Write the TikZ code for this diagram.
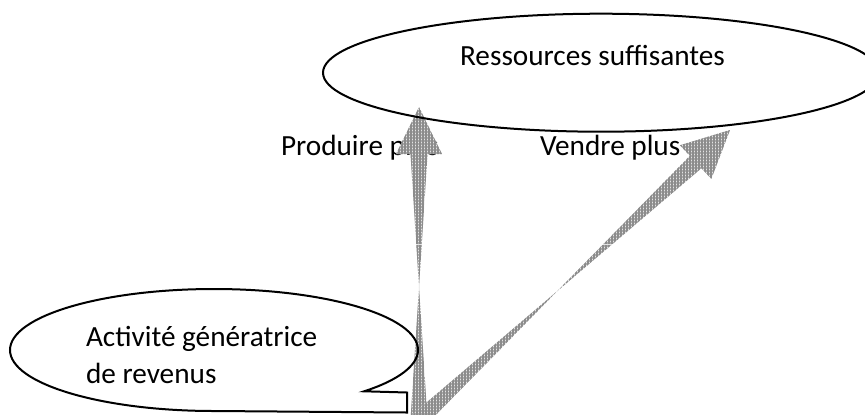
\documentclass[tikz,border=0pt]{standalone}
\usepackage{fontspec}
\setmainfont{Carlito}
\usetikzlibrary{positioning,shapes.geometric,calc,patterns.meta}
\tikzstyle{outline}    = [draw=black, line width=0.8pt]
\tikzstyle{default}    = [inner sep=0pt, outer sep=0pt, text=black, font=\fontsize{11.7pt}{14.9pt}\selectfont]
\tikzstyle{default_text}    = [default, anchor=base west, align=left]
\tikzstyle{big_ellipse}    = [outline, ellipse, inner sep=0pt, minimum width=222.4pt, minimum height=47.2pt]
\tikzstyle{fat_arrow}    = [draw=none, preaction={fill=gray!22}, pattern={Hatch[distance=1.2pt, line width=0.5pt]}, pattern color=gray!90,
   to path={($(\tikztostart)!3.4pt!90:(\tikztotarget)$)
      -- ($(\tikztotarget)!18.8pt!(\tikztostart)!3.4pt!-90:(\tikztotarget)$)
      -- ($(\tikztotarget)!18.8pt!(\tikztostart)!9.2pt!-90:(\tikztotarget)$)
      -- (\tikztotarget)
      -- ($(\tikztotarget)!18.8pt!(\tikztostart)!9.2pt!90:(\tikztotarget)$)
      -- ($(\tikztotarget)!18.8pt!(\tikztostart)!3.4pt!90:(\tikztotarget)$)
      -- ($(\tikztostart)!3.4pt!-90:(\tikztotarget)$) -- cycle}]

\begin{document}
\begin{tikzpicture}[x=0.4pt, y=-0.4pt]
   \useasboundingbox (0,0) rectangle (865,414);
   \clip (0,0) rectangle (865,414);

   % Labels under the arrows
   \node at (281,155) [default_text] (produire) {Produire plus};
   \node at (540,155) [default_text] (vendre) {Vendre plus};

   % Arrows
   \coordinate (source) at (419,420);
   \coordinate (tip produire) at (419,107);
   \coordinate (tip vendre) at (730,130);
   \path [fat_arrow] (source) to (tip produire);
   \path [fat_arrow] (source) to (tip vendre);

   % Goal
   \node at (601,72.7) [big_ellipse] (ressources) {};
   \node at (592.5,65.7) [default, anchor=base] (ressources text) {Ressources suffisantes};

   % Activity
   \draw [outline] (214,411) arc [start angle=90, end angle=402.6, x radius=204, y radius=61]
      -- (407,392.5) -- (407,412.5) -- cycle;
   \node at (86,383.3) [default_text] (activite) {Activité génératrice\\de revenus};

\end{tikzpicture}
\end{document}
